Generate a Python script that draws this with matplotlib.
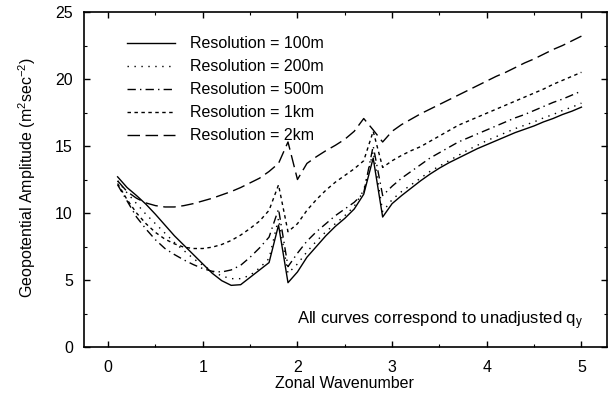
import matplotlib
matplotlib.use("Agg")
import matplotlib.pyplot as plt
from matplotlib.ticker import MultipleLocator

plt.rcParams['font.family'] = ['Liberation Sans', 'DejaVu Sans']
plt.rcParams['mathtext.fontset'] = 'custom'
plt.rcParams['mathtext.rm'] = 'Liberation Sans'
plt.rcParams['mathtext.it'] = 'Liberation Sans'
plt.rcParams['mathtext.default'] = 'rm'

wavenumber = [0.1, 0.2, 0.3, 0.4, 0.5, 0.6, 0.7, 0.8, 0.9, 1.0,
              1.1, 1.2, 1.3, 1.4, 1.5, 1.6, 1.7, 1.8, 1.9, 2.0,
              2.1, 2.2, 2.3, 2.4, 2.5, 2.6, 2.7, 2.8, 2.9, 3.0,
              3.1, 3.2, 3.3, 3.4, 3.5, 3.6, 3.7, 3.8, 3.9, 4.0,
              4.1, 4.2, 4.3, 4.4, 4.5, 4.6, 4.7, 4.8, 4.9, 5.0]

res_100m = [12.7, 11.9, 11.3, 10.65, 9.9, 9.1, 8.3, 7.6, 6.9, 6.2,
            5.5, 4.95, 4.6, 4.65, 5.2, 5.75, 6.3, 9.1, 4.8, 5.6,
            6.7, 7.5, 8.3, 9.0, 9.6, 10.3, 11.4, 14.1, 9.7, 10.7,
            11.3, 11.85, 12.4, 12.9, 13.35, 13.75, 14.1, 14.45, 14.8, 15.1,
            15.4, 15.7, 16.0, 16.25, 16.5, 16.8, 17.05, 17.35, 17.6, 17.9]

res_200m = [12.4, 11.5, 10.7, 9.9, 9.2, 8.5, 7.8, 7.2, 6.6, 6.1,
            5.65, 5.3, 5.1, 5.1, 5.35, 5.9, 6.6, 9.6, 5.5, 6.2,
            7.1, 7.9, 8.6, 9.2, 9.8, 10.5, 11.7, 14.6, 10.1, 11.0,
            11.6, 12.1, 12.6, 13.1, 13.5, 13.9, 14.3, 14.7, 15.05, 15.4,
            15.7, 16.0, 16.3, 16.55, 16.8, 17.1, 17.35, 17.65, 17.9, 18.2]

res_500m = [12.1, 10.9, 9.7, 8.8, 8.0, 7.35, 6.9, 6.5, 6.15, 5.85,
            5.65, 5.6, 5.75, 6.1, 6.7, 7.4, 8.2, 10.3, 6.0, 7.0,
            7.9, 8.6, 9.2, 9.8, 10.3, 10.8, 11.5, 15.0, 11.3, 12.0,
            12.6, 13.1, 13.6, 14.1, 14.5, 14.9, 15.3, 15.6, 15.9, 16.2,
            16.5, 16.8, 17.1, 17.35, 17.65, 17.95, 18.25, 18.5, 18.8, 19.1]

res_1km = [12.2, 11.0, 10.0, 9.2, 8.55, 8.05, 7.7, 7.45, 7.35, 7.35,
           7.45, 7.65, 7.95, 8.35, 8.85, 9.4, 10.2, 12.1, 8.6, 9.2,
           10.2, 11.0, 11.7, 12.3, 12.8, 13.3, 13.9, 16.1, 13.4, 13.9,
           14.3, 14.65, 14.95, 15.35, 15.75, 16.15, 16.55, 16.85, 17.15, 17.45,
           17.75, 18.05, 18.35, 18.65, 18.95, 19.25, 19.6, 19.9, 20.2, 20.5]

res_2km = [12.4, 11.6, 11.1, 10.75, 10.55, 10.45, 10.45, 10.55, 10.7, 10.9,
           11.1, 11.35, 11.6, 11.9, 12.25, 12.6, 13.1, 13.7, 15.3, 12.5,
           13.7, 14.2, 14.65, 15.05, 15.5, 16.1, 17.05, 16.2, 15.3, 16.1,
           16.6, 17.0, 17.4, 17.75, 18.1, 18.45, 18.8, 19.15, 19.5, 19.85,
           20.2, 20.5, 20.85, 21.2, 21.5, 21.85, 22.2, 22.5, 22.85, 23.2]

labels = ['Resolution = 100m', 'Resolution = 200m', 'Resolution = 500m',
          'Resolution = 1km', 'Resolution = 2km']
series = [res_100m, res_200m, res_500m, res_1km, res_2km]
styles = ['-', (0, (1, 4)), (0, (6, 3, 1, 3)), (0, (2.5, 2.5)), (0, (9, 4))]

fig = plt.figure(figsize=(6.08, 4.00), dpi=100)
ax = fig.add_axes([84/608, 1 - 347/400, 523/608, 335/400])

for y, lab, ls in zip(series, labels, styles):
    ax.plot(wavenumber, y, color='black', lw=1.0, ls=ls, label=lab)

ax.set_xlim(-0.255, 5.27)
ax.set_ylim(0, 25)
ax.xaxis.set_major_locator(MultipleLocator(1))
ax.xaxis.set_minor_locator(MultipleLocator(0.5))
ax.yaxis.set_major_locator(MultipleLocator(5))
ax.yaxis.set_minor_locator(MultipleLocator(2.5))
ax.tick_params(which='both', direction='in', top=True, right=True, labelsize=11.5)
ax.tick_params(which='major', length=4, width=1)
ax.tick_params(which='minor', length=2, width=0.8)
ax.tick_params(axis='x', pad=9)
ax.tick_params(axis='y', pad=8)
for s in ax.spines.values():
    s.set_linewidth(1.2)

leg = ax.legend(loc='upper left', bbox_to_anchor=(0.082, 0.927), frameon=False,
                borderpad=0, borderaxespad=0, handlelength=3.0, handletextpad=0.95,
                labelspacing=0.5, fontsize=11.5)

ax.text(5.02, 2.0, r'All curves correspond to unadjusted q$_{\mathrm{y}}$',
        ha='right', va='center', fontsize=12)

fig.text(344/608, 1 - 384/400, 'Zonal Wavenumber', ha='center', va='center', fontsize=11.5)
fig.text(27/608, 1 - 178/400, r'Geopotential Amplitude (m$^{2}$sec$^{-2}$)',
         ha='center', va='center', rotation=90, fontsize=11.5)

fig.savefig('out.png', dpi=100)
